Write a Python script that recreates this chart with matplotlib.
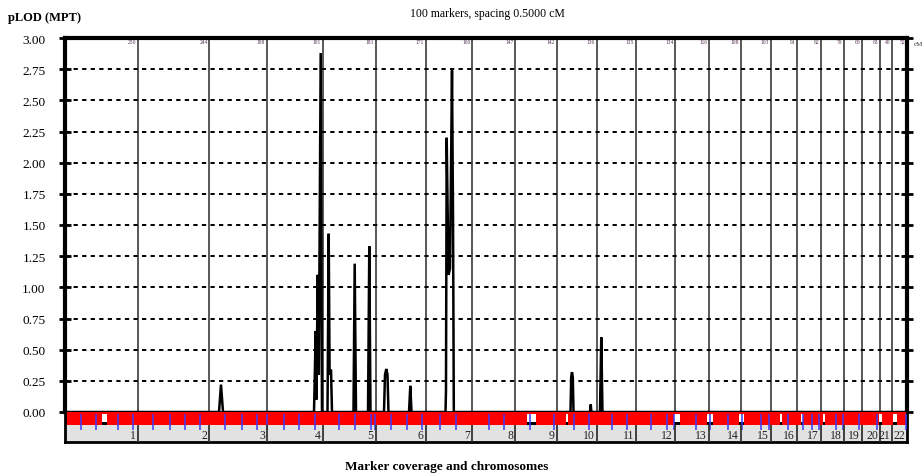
import matplotlib
matplotlib.use("Agg")
import matplotlib.pyplot as plt
from matplotlib.patches import Rectangle
import numpy as np

# Chromosome names and lengths (cM)
chromosomes = [str(i) for i in range(1, 23)]
chrom_lengths = [250, 244, 198, 191, 181, 171, 160, 147, 142, 136, 135,
                 134, 116, 108, 103, 91, 82, 79, 60, 63, 40, 52]

# Genome-wide pLOD profile: cumulative position (cM) and pLOD value
pos_cm = [0.0, 527.3, 534.1, 541.0,
          852.6, 858.4, 861.1, 865.2, 869.0, 875.5, 879.9,
          898.8, 902.9, 906.0, 910.8, 914.2,
          987.8, 991.9, 996.4,
          1037.5, 1041.9, 1046.0,
          1092.2, 1095.7, 1100.1, 1104.2, 1107.6,
          1177.9, 1182.3, 1186.4,
          1302.9, 1304.5, 1306.9, 1313.1, 1318.2, 1325.1, 1328.5, 1331.3,
          1730.8, 1733.2, 1735.9, 1738.7, 1741.1,
          1797.6, 1800.0, 1802.4,
          1831.8, 1836.2, 1840.3,
          2883.0]
plod = [0.0, 0.0, 0.22, 0.0,
        0.0, 0.65, 0.10, 1.10, 0.30, 2.88, 0.0,
        0.0, 1.43, 0.30, 0.34, 0.0,
        0.0, 1.19, 0.0,
        0.0, 1.33, 0.0,
        0.0, 0.30, 0.345, 0.30, 0.0,
        0.0, 0.21, 0.0,
        0.0, 0.17, 2.20, 1.10, 1.15, 2.74, 1.60, 0.0,
        0.0, 0.28, 0.32, 0.28, 0.0,
        0.0, 0.06, 0.0,
        0.0, 0.60, 0.0,
        0.0]

# Marker positions (cumulative cM)
marker_cm = [54.8, 106.1, 181.5, 232.8, 301.3, 359.5, 410.9, 462.2, 547.8,
             606.0, 657.4, 691.6, 749.8, 801.2, 856.0, 938.2, 993.0, 1047.8,
             1061.5, 1116.2, 1171.0, 1222.4, 1284.0, 1338.8, 1451.8, 1503.1,
             1592.2, 1674.3, 1742.8, 1794.2, 1872.9, 1924.3, 2006.5, 2061.3,
             2085.2, 2160.5, 2208.5, 2270.1, 2318.0, 2383.1, 2410.5, 2475.6,
             2526.9, 2557.7, 2581.7, 2639.9, 2663.9, 2718.7, 2780.3, 2879.6]

# Coverage gaps (start, end in cumulative cM)
gap_start = [125.6, 1581.9, 1717.1, 2085.2, 2198.2, 2307.8, 2448.2, 2520.1,
             2595.4, 2787.1, 2835.1]
gap_end = [144.8, 1612.7, 1722.3, 2104.1, 2218.8, 2324.9, 2455.0, 2526.9,
           2602.3, 2797.4, 2848.8]

yticks = [0.0, 0.25, 0.5, 0.75, 1.0, 1.25, 1.5, 1.75, 2.0, 2.25, 2.5, 2.75, 3.0]

serif = ["Liberation Serif", "DejaVu Serif"]
plt.rcParams["font.family"] = serif

bounds = np.cumsum(chrom_lengths)
total = bounds[-1]

fig = plt.figure(figsize=(9.24, 4.77), dpi=100)
W, H = 924, 477
x0, x1 = 65, 907
ax = fig.add_axes([x0 / W, (H - 413) / H, (x1 - x0) / W, (413 - 39) / H])
strip = fig.add_axes([x0 / W, (H - 443) / H, (x1 - x0) / W, 30 / H])

# ---- main pLOD panel ----
ax.set_xlim(0, total)
ax.set_ylim(0, 3.0)
for b in bounds[:-1]:
    ax.axvline(b, color="#4a4a4a", lw=1.3, zorder=1)
for t in yticks[1:-1]:
    ax.axhline(t, color="black", lw=1.4, ls=(0, (2.2, 2.2)), zorder=1)
ax.plot(pos_cm, plod, color="black", lw=1.8, solid_joinstyle="miter", zorder=3)

ax.set_xticks([])
ax.set_yticks(yticks)
ax.set_yticklabels([f"{t:.2f}" for t in yticks], fontsize=9.5)
ax.tick_params(axis="y", which="both", direction="inout", length=8, width=2,
               right=True, left=True, pad=10)
for side, lw in (("left", 3), ("right", 3), ("top", 3), ("bottom", 2)):
    ax.spines[side].set_linewidth(lw)

for length, b in zip(chrom_lengths, bounds):
    ax.text(b - 6, 2.972, str(length), fontsize=4, color="#553355",
            ha="right", va="center")
ax.text(1.008, 0.985, "cM", transform=ax.transAxes, fontsize=5,
        color="#333333", ha="left", va="center")

# ---- marker coverage strip ----
strip.set_xlim(0, total)
strip.set_ylim(30, 0)
strip.add_patch(Rectangle((0, 13), total, 17, facecolor="#e2e2e2",
                          edgecolor="none", zorder=0))
strip.add_patch(Rectangle((0, 0), total, 13, facecolor="#ff0000",
                          edgecolor="none", zorder=1))
for gs, ge in zip(gap_start, gap_end):
    strip.add_patch(Rectangle((gs, 2), ge - gs, 8, facecolor="white",
                              edgecolor="none", zorder=2))
    strip.add_patch(Rectangle((gs, 10), ge - gs, 2.5, facecolor="black",
                              edgecolor="none", zorder=2))
strip.vlines(marker_cm, 2, 18, color="#3a3aff", lw=1.1, zorder=3)
strip.vlines(bounds[:-1], 13, 30, color="#333333", lw=1.3, zorder=3)
for name, b in zip(chromosomes, bounds):
    strip.text(b - 7, 23.5, name, fontsize=8.5, color="#222222",
               ha="right", va="center", zorder=4)
strip.set_xticks([])
strip.set_yticks([])
for side in ("left", "right", "bottom"):
    strip.spines[side].set_linewidth(2)
strip.spines["top"].set_visible(False)

# ---- titles ----
fig.text(487 / W, 1 - 14 / H, "100 markers, spacing 0.5000 cM", fontsize=8.5,
         ha="center", va="center")
fig.text(8 / W, 1 - 18 / H, "pLOD (MPT)", fontsize=9, fontweight="bold",
         ha="left", va="center")
fig.text(447 / W, 1 - 467 / H, "Marker coverage and chromosomes", fontsize=9.5,
         fontweight="bold", ha="center", va="center")

fig.savefig("out.png", dpi=100, facecolor="white")
